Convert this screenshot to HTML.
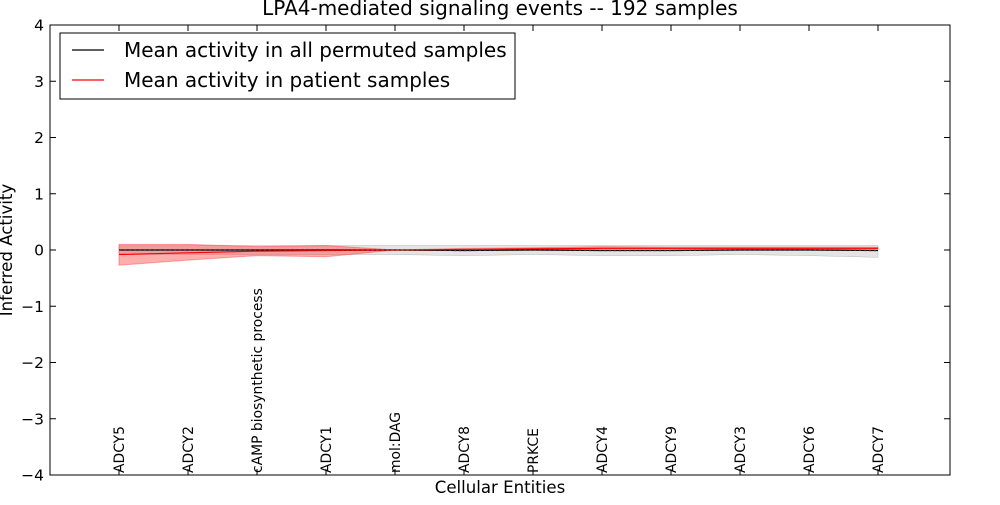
<!DOCTYPE html>
<html><head><meta charset="utf-8"><style>
body{margin:0;background:#fff;}
svg{font-family:"DejaVu Sans","Liberation Sans",sans-serif;}
</style></head><body>
<svg id="chart" width="1000" height="500" xmlns="http://www.w3.org/2000/svg">
<rect width="1000" height="500" fill="#fff"/>
<text x="500" y="15" font-size="20" text-anchor="middle">LPA4-mediated signaling events -- 192 samples</text>
<g id="bands"></g><g id="lines"></g>
<rect x="50" y="25" width="900" height="450" fill="none" stroke="#000" stroke-width="1"/>
<g id="axes"></g>
<text x="500" y="493" font-size="16.6" text-anchor="middle">Cellular Entities</text>
<text transform="translate(12,250) rotate(-90)" font-size="16.6" text-anchor="middle">Inferred Activity</text>
<g>
<rect x="60" y="33" width="455" height="66" fill="#fff" stroke="#000"/>
<line x1="72" y1="50" x2="104" y2="50" stroke="#000" stroke-width="1.2"/>
<text x="124" y="57" font-size="20">Mean activity in all permuted samples</text>
<line x1="72" y1="80" x2="104" y2="80" stroke="#f00" stroke-width="1.2"/>
<text x="124" y="87" font-size="20">Mean activity in patient samples</text>
</g>
</svg>
<script>
const categories=["ADCY5","ADCY2","cAMP biosynthetic process","ADCY1","mol:DAG","ADCY8","PRKCE","ADCY4","ADCY9","ADCY3","ADCY6","ADCY7"];
const permMean=[0,0,0,0,0,-0.01,0,-0.01,-0.01,0,0,-0.01];
const permUpper=[0.08,0.08,0.08,0.08,0.08,0.08,0.08,0.08,0.08,0.08,0.08,0.08];
const permLower=[-0.08,-0.08,-0.08,-0.08,-0.08,-0.1,-0.08,-0.1,-0.1,-0.08,-0.1,-0.13];
const patMean=[-0.08,-0.05,-0.02,-0.01,0,0.01,0.02,0.03,0.03,0.03,0.03,0.03];
const patUpper=[0.1,0.1,0.06,0.08,0,0.03,0.04,0.06,0.05,0.05,0.05,0.05];
const patLower=[-0.27,-0.18,-0.1,-0.12,0,-0.01,0,0.01,0.01,0.01,0.01,0.01];
const yTicks=[-4,-3,-2,-1,0,1,2,3,4];
const NS="http://www.w3.org/2000/svg";
const xs=i=>119+i*69;
const ys=v=>250-v*56.25;
function mk(t,a,p){const e=document.createElementNS(NS,t);for(const k in a)e.setAttribute(k,a[k]);document.getElementById(p).appendChild(e);return e;}
function band(u,l){let d="";u.forEach((v,i)=>d+=(i?"L":"M")+xs(i)+","+ys(v));for(let i=l.length-1;i>=0;i--)d+="L"+xs(i)+","+ys(l[i]);return d+"Z";}
function line(m){return m.map((v,i)=>(i?"L":"M")+xs(i)+","+ys(v)).join("");}
let b1=mk("path",{d:band(permUpper,permLower),fill:"#bbb","fill-opacity":"0.4",stroke:"#bbb","stroke-width":"0.5"},"bands");


let b2=mk("path",{d:band(patUpper,patLower),fill:"#f33","fill-opacity":"0.4",stroke:"#f33","stroke-opacity":"0.4"},"bands");


let l1=mk("path",{d:line(permMean),fill:"none",stroke:"#000","stroke-width":"1.2"},"lines");


let l2=mk("path",{d:line(patMean),fill:"none",stroke:"#f00","stroke-width":"1.2"},"lines");


let l3=mk("path",{d:line(permMean),fill:"none",stroke:"#333","stroke-width":"1.2","stroke-dasharray":"2,3"},"lines");


yTicks.forEach(v=>{
  const y=ys(v);
  mk("line",{x1:50,x2:56,y1:y,y2:y,stroke:"#000"},"axes");
  mk("line",{x1:944,x2:950,y1:y,y2:y,stroke:"#000"},"axes");
  const t=mk("text",{x:44,y:y+5.5,"font-size":"15.5","text-anchor":"end"},"axes");
  t.textContent=(v<0?"\u2212"+(-v):""+v);
  
  
});
categories.forEach((c,i)=>{
  const x=xs(i);
  mk("line",{x1:x,x2:x,y1:475,y2:469,stroke:"#000"},"axes");
  mk("line",{x1:x,x2:x,y1:25,y2:31,stroke:"#000"},"axes");
  const t=mk("text",{transform:`translate(${x+5},473) rotate(-90)`,"font-size":"13.9"},"axes");
  t.textContent=c;
  
  
});
</script>
</body></html>
